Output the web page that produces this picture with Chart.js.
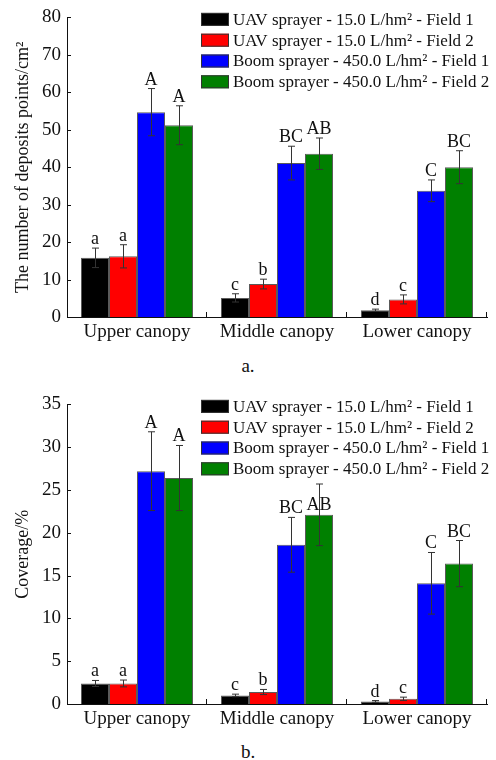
<!DOCTYPE html>
<html>
<head>
<meta charset="utf-8">
<script src="https://cdn.jsdelivr.net/npm/chart.js@4/dist/chart.umd.min.js"></script>
<style>
  body { margin: 0; background: #fff; width: 496px; height: 760px; position: relative; overflow: hidden; }
  .box { position: absolute; left: 0; width: 496px; height: 345px; }
  .cap { position: absolute; left: 0; width: 496px; text-align: center; font: 19px "Liberation Serif", "Times New Roman", serif; color: #111; }
</style>
</head>
<body>
<div class="box" style="top:0"><canvas id="chart-deposits"></canvas></div>
<div class="cap" style="top:355px">a.</div>
<div class="box" style="top:387px"><canvas id="chart-coverage"></canvas></div>
<div class="cap" style="top:741px">b.</div>
<script>
const categories = ['Upper canopy', 'Middle canopy', 'Lower canopy'];
const seriesNames = [
  'UAV sprayer - 15.0 L/hm\u00b2 - Field 1',
  'UAV sprayer - 15.0 L/hm\u00b2 - Field 2',
  'Boom sprayer - 450.0 L/hm\u00b2 - Field 1',
  'Boom sprayer - 450.0 L/hm\u00b2 - Field 2'
];
const colors = ['#000000', '#ff0000', '#0000ff', '#008000'];

// a. deposit points per cm2 (mean, sd)
const depUav1 = [15.8, 5.1, 1.8];
const depUav2 = [16.2, 8.8, 4.7];
const depBoom1 = [54.7, 41.1, 33.7];
const depBoom2 = [51.2, 43.6, 40.0];
const depUav1Sd = [2.6, 1.1, 0.3];
const depUav2Sd = [3.1, 1.3, 1.2];
const depBoom1Sd = [6.3, 4.5, 2.9];
const depBoom2Sd = [5.2, 4.2, 4.4];

// b. coverage % (mean, sd)
const covUav1 = [2.4, 1.0, 0.3];
const covUav2 = [2.4, 1.4, 0.6];
const covBoom1 = [27.2, 18.6, 14.1];
const covBoom2 = [26.4, 22.1, 16.4];
const covUav1Sd = [0.35, 0.15, 0.1];
const covUav2Sd = [0.4, 0.3, 0.2];
const covBoom1Sd = [4.6, 3.2, 3.6];
const covBoom2Sd = [3.8, 3.6, 2.7];

// significance letters, same for both panels
const letUav1 = ['a', 'c', 'd'];
const letUav2 = ['a', 'b', 'c'];
const letBoom1 = ['A', 'BC', 'C'];
const letBoom2 = ['A', 'AB', 'BC'];

const serif = '"Liberation Serif", "Times New Roman", serif';
Chart.defaults.font.family = serif;
Chart.defaults.color = '#111';

const legendBox = { dx: 134, w: 28, h: 13, row: 20.8 };

const decorations = {
  id: 'decorations',
  afterDatasetsDraw(chart) {
    const ctx = chart.ctx;
    const area = chart.chartArea;
    const x = chart.scales.x, y = chart.scales.y;
    ctx.save();
    // inward ticks
    ctx.strokeStyle = '#111';
    ctx.lineWidth = 1;
    ctx.beginPath();
    y.ticks.forEach(t => {
      const py = Math.round(y.getPixelForValue(t.value)) + 0.5;
      ctx.moveTo(area.left, py);
      ctx.lineTo(area.left + 4, py);
    });
    const n = chart.data.labels.length;
    for (let i = 1; i <= n; i++) {
      const px = Math.round(x.left + i * x.width / n) - 0.5;
      ctx.moveTo(px, area.bottom);
      ctx.lineTo(px, area.bottom - 5);
    }
    ctx.stroke();

    // legend
    const lx = area.left + legendBox.dx;
    const legendBottom = area.top + 2 + 3.5 * legendBox.row;
    ctx.font = '17px ' + serif;
    ctx.textBaseline = 'middle';
    ctx.textAlign = 'left';
    chart.data.datasets.forEach((ds, i) => {
      const cy = area.top + 2 + i * legendBox.row;
      ctx.fillStyle = ds.backgroundColor;
      ctx.fillRect(lx, cy - legendBox.h / 2, legendBox.w, legendBox.h);
      ctx.strokeStyle = '#333';
      ctx.strokeRect(lx + 0.5, cy - legendBox.h / 2 + 0.5, legendBox.w - 1, legendBox.h - 1);
      ctx.fillStyle = '#111';
      ctx.fillText(ds.label, lx + legendBox.w + 4, cy + 1);
    });

    // error bars and letters
    ctx.font = '18px ' + serif;
    ctx.textAlign = 'center';
    ctx.textBaseline = 'alphabetic';
    chart.data.datasets.forEach((ds, di) => {
      const meta = chart.getDatasetMeta(di);
      meta.data.forEach((bar, i) => {
        const v = ds.data[i], e = ds.sd[i];
        const top = y.getPixelForValue(v + e);
        const bot = y.getPixelForValue(v - e);
        const bx = Math.round(bar.x) + 0.5;
        ctx.strokeStyle = '#333';
        ctx.beginPath();
        ctx.moveTo(bx, top); ctx.lineTo(bx, bot);
        ctx.moveTo(bx - 3.5, top); ctx.lineTo(bx + 3.5, top);
        ctx.moveTo(bx - 3.5, bot); ctx.lineTo(bx + 3.5, bot);
        ctx.stroke();
        let base = top - 4;
        if (base - 13 < legendBottom && bar.x > lx) base = bar.y - 5;
        ctx.fillStyle = '#111';
        ctx.fillText(ds.letters[i], bar.x, base);
      });
    });
    ctx.restore();
  }
};

function makeChart(id, means, sds, yMax, yStep, yTitle) {
  const letters = [letUav1, letUav2, letBoom1, letBoom2];
  return new Chart(document.getElementById(id), {
    type: 'bar',
    data: {
      labels: categories,
      datasets: means.map((m, i) => ({
        label: seriesNames[i],
        data: m,
        sd: sds[i],
        letters: letters[i],
        backgroundColor: colors[i],
        borderColor: 'rgba(20,20,20,0.7)',
        borderWidth: 1,
        borderSkipped: 'bottom',
        barPercentage: 1.0,
        categoryPercentage: 0.8
      }))
    },
    options: {
      responsive: true,
      maintainAspectRatio: false,
      animation: false,
      layout: { padding: { top: 17, right: 9, left: 0, bottom: 0 } },
      plugins: { legend: { display: false }, tooltip: { enabled: false } },
      scales: {
        x: {
          grid: { display: false, drawTicks: false },
          border: { display: true, color: '#111', width: 1 },
          ticks: { font: { size: 19 }, padding: 4, color: '#111' },
          afterFit: s => { s.height = 28; }
        },
        y: {
          min: 0,
          max: yMax,
          grid: { display: false, drawTicks: false },
          border: { display: true, color: '#111', width: 1 },
          ticks: { stepSize: yStep, font: { size: 19 }, padding: 6, color: '#111' },
          title: { display: true, text: yTitle, font: { size: 18 }, color: '#111', padding: { top: 12, bottom: 0 } },
          afterFit: s => { s.width = 67; }
        }
      }
    },
    plugins: [decorations]
  });
}

makeChart('chart-deposits',
  [depUav1, depUav2, depBoom1, depBoom2],
  [depUav1Sd, depUav2Sd, depBoom1Sd, depBoom2Sd],
  80, 10, 'The number of deposits points/cm\u00b2');

makeChart('chart-coverage',
  [covUav1, covUav2, covBoom1, covBoom2],
  [covUav1Sd, covUav2Sd, covBoom1Sd, covBoom2Sd],
  35, 5, 'Coverage/%');
</script>
</body>
</html>
